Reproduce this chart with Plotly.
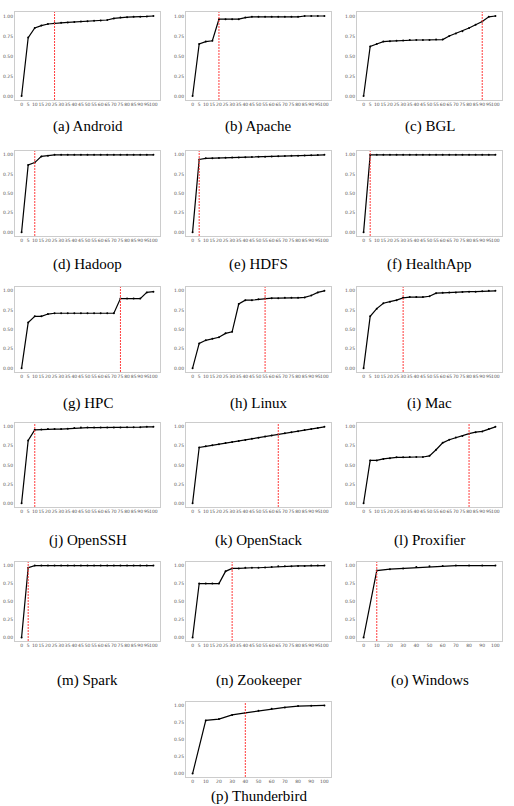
import plotly.graph_objects as go

W, H = 514, 806

x5 = list(range(0, 101, 5))
x10 = list(range(0, 101, 10))

names = ["Android", "Apache", "BGL", "Hadoop", "HDFS", "HealthApp", "HPC", "Linux",
         "Mac", "OpenSSH", "OpenStack", "Proxifier", "Spark", "Zookeeper", "Windows", "Thunderbird"]
letters = "abcdefghijklmnop"

android = [0, 0.73, 0.85, 0.88, 0.90, 0.91, 0.915, 0.92, 0.925, 0.93, 0.935, 0.94, 0.945, 0.95, 0.97, 0.98, 0.985, 0.99, 0.99, 0.995, 1.0]
apache = [0, 0.65, 0.68, 0.69, 0.96, 0.96, 0.96, 0.96, 0.98, 0.99, 0.99, 0.99, 0.99, 0.99, 0.99, 0.99, 0.99, 1.0, 1.0, 1.0, 1.0]
bgl = [0, 0.62, 0.65, 0.68, 0.685, 0.69, 0.695, 0.70, 0.70, 0.70, 0.70, 0.705, 0.705, 0.75, 0.78, 0.81, 0.85, 0.89, 0.93, 0.99, 1.0]
hadoop = [0, 0.87, 0.90, 0.98, 0.99, 1.0, 1.0, 1.0, 1.0, 1.0, 1.0, 1.0, 1.0, 1.0, 1.0, 1.0, 1.0, 1.0, 1.0, 1.0, 1.0]
hdfs = [0, 0.94, 0.955, 0.957, 0.96, 0.962, 0.965, 0.967, 0.97, 0.972, 0.975, 0.977, 0.98, 0.982, 0.985, 0.987, 0.99, 0.992, 0.995, 0.997, 1.0]
healthapp = [0, 1.0, 1.0, 1.0, 1.0, 1.0, 1.0, 1.0, 1.0, 1.0, 1.0, 1.0, 1.0, 1.0, 1.0, 1.0, 1.0, 1.0, 1.0, 1.0, 1.0]
hpc = [0, 0.59, 0.67, 0.67, 0.70, 0.71, 0.71, 0.71, 0.71, 0.71, 0.71, 0.71, 0.71, 0.71, 0.71, 0.90, 0.90, 0.90, 0.90, 0.98, 0.99]
linux = [0, 0.32, 0.36, 0.38, 0.40, 0.45, 0.47, 0.83, 0.88, 0.88, 0.89, 0.90, 0.905, 0.905, 0.91, 0.91, 0.91, 0.915, 0.94, 0.98, 1.0]
mac = [0, 0.67, 0.77, 0.84, 0.86, 0.88, 0.91, 0.92, 0.92, 0.92, 0.93, 0.97, 0.975, 0.98, 0.98, 0.985, 0.99, 0.99, 0.995, 1.0, 1.0]
openssh = [0, 0.82, 0.96, 0.965, 0.97, 0.97, 0.97, 0.975, 0.985, 0.99, 0.99, 0.99, 0.99, 0.99, 0.99, 0.99, 0.995, 0.995, 0.995, 1.0, 1.0]
openstack = [0, 0.73, 0.744, 0.758, 0.773, 0.787, 0.801, 0.815, 0.829, 0.844, 0.858, 0.872, 0.886, 0.901, 0.915, 0.929, 0.943, 0.957, 0.972, 0.986, 1.0]
proxifier = [0, 0.56, 0.56, 0.58, 0.59, 0.60, 0.60, 0.605, 0.605, 0.605, 0.62, 0.70, 0.79, 0.83, 0.86, 0.88, 0.91, 0.93, 0.94, 0.97, 1.0]
spark = [0, 0.97, 1.0, 1.0, 1.0, 1.0, 1.0, 1.0, 1.0, 1.0, 1.0, 1.0, 1.0, 1.0, 1.0, 1.0, 1.0, 1.0, 1.0, 1.0, 1.0]
zookeeper = [0, 0.75, 0.75, 0.75, 0.75, 0.92, 0.96, 0.96, 0.97, 0.97, 0.97, 0.975, 0.98, 0.99, 0.99, 0.99, 0.995, 0.995, 1.0, 1.0, 1.0]
windows = [0, 0.93, 0.95, 0.96, 0.98, 0.99, 0.995, 1.0, 1.0, 1.0, 1.0]
thunderbird = [0, 0.78, 0.80, 0.86, 0.89, 0.92, 0.95, 0.97, 0.99, 0.995, 1.0]

series = [android, apache, bgl, hadoop, hdfs, healthapp, hpc, linux, mac, openssh,
          openstack, proxifier, spark, zookeeper, windows, thunderbird]
xs = [x5] * 14 + [x10, x10]
thresholds = [25, 20, 90, 10, 5, 5, 75, 55, 30, 10, 65, 80, 5, 30, 10, 40]
ytick_vals = [0, 0.25, 0.5, 0.75, 1.0]
ytick_text = ["0.00", "0.25", "0.50", "0.75", "1.00"]

# pixel layout
cols = [(15, 160), (186, 331), (357, 502)]
rows = [(12, 100), (151, 236), (287, 372), (423, 507), (562, 641), (702, 777)]
caption_y = [127, 264, 403, 540, 680, 796]

fig = go.Figure()
annotations = []
shapes = []
for i, (name, ys, xx, th) in enumerate(zip(names, series, xs, thresholds)):
    if i < 15:
        r, c = divmod(i, 3)
    else:
        r, c = 5, 1
    k = i + 1
    xa = "x" if k == 1 else f"x{k}"
    ya = "y" if k == 1 else f"y{k}"
    fig.add_trace(go.Scatter(
        x=xx, y=ys, mode="lines+markers", xaxis=xa, yaxis=ya,
        line=dict(color="black", width=1.2),
        marker=dict(color="black", size=2), showlegend=False))
    x0, x1 = cols[c]
    y0, y1 = rows[r]
    fig.layout[f"xaxis{'' if k == 1 else k}"] = dict(
        domain=[x0 / W, x1 / W], anchor=ya, range=[-5, 105],
        tickvals=xx, ticktext=[str(v) for v in xx], tickangle=0,
        showgrid=False, zeroline=False, showline=True, mirror=True,
        linecolor="#cccccc", linewidth=1, ticks="",
        tickfont=dict(size=4.5, color="#555555", family="DejaVu Sans"))
    fig.layout[f"yaxis{'' if k == 1 else k}"] = dict(
        domain=[1 - y1 / H, 1 - y0 / H], anchor=xa, range=[-0.05, 1.05],
        tickvals=ytick_vals, ticktext=ytick_text,
        showgrid=False, zeroline=False, showline=True, mirror=True,
        linecolor="#cccccc", linewidth=1, ticks="",
        tickfont=dict(size=4.5, color="#555555", family="DejaVu Sans"))
    shapes.append(dict(type="line", xref=xa, yref=f"{ya} domain",
                       x0=th, x1=th, y0=0, y1=1,
                       line=dict(color="rgb(255,60,60)", width=1, dash="2px,1px")))
    annotations.append(dict(text=f"({letters[i]}) {name}", xref="paper", yref="paper",
                            x=(x0 + x1) / 2 / W, y=1 - caption_y[r] / H,
                            xanchor="center", yanchor="middle", showarrow=False,
                            font=dict(size=15, color="black", family="Liberation Serif")))

fig.update_layout(width=W, height=H, margin=dict(l=0, r=0, t=0, b=0),
                  paper_bgcolor="white", plot_bgcolor="white",
                  annotations=annotations, shapes=shapes)
fig.write_html("out.html")
